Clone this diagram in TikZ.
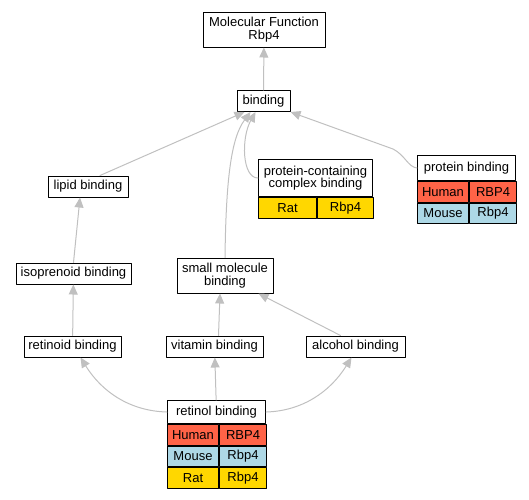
\documentclass[tikz,border=0pt]{standalone}
\usepackage{fontspec}
\setmainfont{Liberation Sans}
\usetikzlibrary{arrows.meta,positioning}
\definecolor{human}{HTML}{FF6347}
\definecolor{mouse}{HTML}{ADD8E6}
\definecolor{rat}{HTML}{FFD700}
\definecolor{linkgray}{HTML}{C0C0C0}
\begin{document}
\begin{tikzpicture}[x=1pt, y=-1pt, font=\fontsize{13}{12.5}\selectfont, line join=round, line cap=round,
	>={Triangle[length=10pt,width=9pt]},
	term/.style={draw, line width=1pt, fill=white, align=center, inner sep=0pt, minimum height=21},
	cell/.style={draw, line width=1pt, inner sep=0pt, minimum height=20.7},
	link/.style={draw=linkgray, line width=1pt, ->}]
			\useasboundingbox (0,0) rectangle (529,499);
			% go terms
			\node[term, minimum width=122, minimum height=35] (mf) at (264,29.5) {Molecular Function\\Rbp4};
			\node[term, minimum width=53] (bind) at (263.5,101) {binding};
			\node[term, minimum width=80] (lipid) at (88,186.5) {lipid binding};
			\node[term, minimum width=115] (iso) at (73.5,273.5) {isoprenoid binding};
			\node[term, minimum width=96, minimum height=35] (small) at (225,275.5) {small molecule\\binding};
			\node[term, minimum width=97] (retd) at (72.5,346.5) {retinoid binding};
			\node[term, minimum width=97] (vit) at (214.5,346.5) {vitamin binding};
			\node[term, minimum width=99] (alc) at (355.5,346.5) {alcohol binding};
			% annotated terms
			\node[term, minimum width=114, minimum height=37, anchor=north west] (pc) at (258,159) {protein-containing\\complex binding};
			\node[cell, fill=rat, minimum width=58, below right=0pt and 0pt of pc.south west] (pcrat) {Rat};
			\node[cell, fill=rat, minimum width=56, right=0pt of pcrat] (pcgene) {Rbp4};
			\node[term, minimum width=98, minimum height=25, anchor=north west] (pb) at (417,155) {protein binding};
			\node[cell, fill=human, minimum width=51, below right=0pt and 0pt of pb.south west] (pbhum) {Human};
			\node[cell, fill=human, minimum width=47, right=0pt of pbhum] (pbhumg) {RBP4};
			\node[cell, fill=mouse, minimum width=51, below=0pt of pbhum] (pbmou) {Mouse};
			\node[cell, fill=mouse, minimum width=47, right=0pt of pbmou] (pbmoug) {Rbp4};
			\node[term, minimum width=98, minimum height=23, anchor=north west] (rol) at (167,400) {retinol binding};
			\node[cell, fill=human, minimum width=51, below right=0pt and 0pt of rol.south west] (rolhum) {Human};
			\node[cell, fill=human, minimum width=47, right=0pt of rolhum] (rolhumg) {RBP4};
			\node[cell, fill=mouse, minimum width=51, below=0pt of rolhum] (rolmou) {Mouse};
			\node[cell, fill=mouse, minimum width=47, right=0pt of rolmou] (rolmoug) {Rbp4};
			\node[cell, fill=rat, minimum width=51, below=0pt of rolmou] (rolrat) {Rat};
			\node[cell, fill=rat, minimum width=47, right=0pt of rolrat] (rolratg) {Rbp4};
			% is_a links
			\draw[link] (bind) -- (mf);
			\draw[link] ([xshift=12]lipid.north) -- ([xshift=-19]bind.south);
			\draw[link] (pc.west) .. controls (242,178) and (241,138) .. ([xshift=-8]bind.south);
			\draw[link] (small.north) .. controls (226,180) and (231,138) .. ([xshift=-13]bind.south);
			\draw[link] (pb.west) .. controls (408,167) and (405,155) .. (393,149) -- (bind.south east);
			\draw[link] (iso.north) -- ([xshift=-8]lipid.south);
			\draw[link] (retd) -- (iso);
			\draw[link] ([xshift=4]vit.north) -- ([xshift=-5]small.south);
			\draw[link] ([xshift=-15]alc.north) -- ([xshift=-15]small.south east);
			\draw[link] (rol) -- (vit);
			\draw[link] (rol.west) .. controls (130,411) and (102,392) .. ([xshift=8]retd.south);
			\draw[link] (rol.east) .. controls (302,411) and (330,392) .. ([xshift=-4]alc.south);
		\end{tikzpicture}
\end{document}
